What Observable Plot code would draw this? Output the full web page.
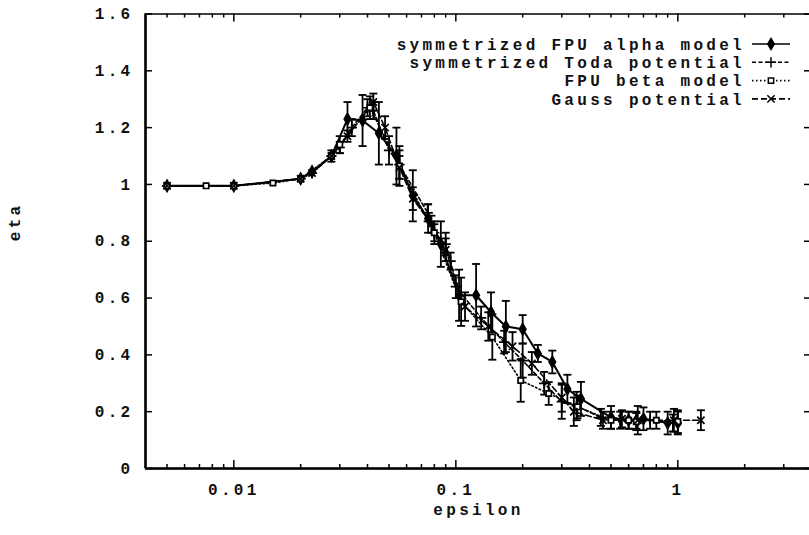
<!DOCTYPE html>
<html><head><meta charset="utf-8">
<script src="https://cdn.jsdelivr.net/npm/d3@7"></script>
<script src="https://cdn.jsdelivr.net/npm/@observablehq/plot@0.6"></script>
<style>
html,body{margin:0;padding:0;background:#fff;}
svg text{font-family:"Liberation Mono",monospace !important;font-size:16px !important;font-weight:bold;letter-spacing:3.3px;fill:#111;}
</style></head><body><div id="chart"></div>
<script>
// ---- data ----
const seriesNames = ["symmetrized FPU alpha model","symmetrized Toda potential","FPU beta model","Gauss potential"];

const alphaEps = [0.005,0.01,0.02,0.0225,0.0275,0.0325,0.038,0.045,0.054,0.064,0.075,0.0856,0.1034,0.1234,0.144,0.168,0.2,0.234,0.272,0.318,0.366,0.5,0.6,0.7,0.9,1.0];
const alphaEta = [0.995,0.995,1.02,1.045,1.10,1.23,1.225,1.18,1.10,0.96,0.88,0.79,0.61,0.61,0.55,0.50,0.49,0.405,0.375,0.28,0.245,0.18,0.17,0.175,0.16,0.16];
const alphaErr = [0,0,0,0,0,0.06,0.09,0.11,0.10,0.09,0.05,0.08,0.09,0.11,0.07,0.09,0.05,0.03,0.04,0.05,0.06,0.04,0.03,0.04,0.04,0.04];

const todaEps = [0.005,0.01,0.02,0.0225,0.0275,0.03,0.034,0.04,0.0425,0.05,0.0557,0.0747,0.08,0.09,0.0947,0.1,0.13,0.165,0.2,0.25,0.3,0.35,0.45,0.55,0.65,0.75,0.95];
const todaEta = [0.995,0.995,1.02,1.04,1.10,1.13,1.20,1.27,1.26,1.12,1.07,0.90,0.83,0.79,0.73,0.64,0.53,0.445,0.38,0.30,0.235,0.22,0.18,0.17,0.17,0.17,0.16];
const todaErr = [0,0,0,0,0,0.02,0.03,0.03,0.03,0.05,0.05,0.03,0.03,0.04,0.03,0.04,0.04,0.04,0.06,0.04,0.06,0.05,0.03,0.03,0.03,0.03,0.03];

const betaEps = [0.005,0.0075,0.01,0.015,0.02,0.0275,0.03,0.041,0.0557,0.08,0.1056,0.146,0.196,0.262,0.353,0.5,0.6,0.65,0.8,1.0];
const betaEta = [0.995,0.995,0.995,1.005,1.02,1.10,1.14,1.27,1.065,0.83,0.587,0.463,0.31,0.264,0.217,0.17,0.17,0.165,0.17,0.165];
const betaErr = [0,0,0,0,0,0.02,0.03,0.04,0.07,0.04,0.085,0.08,0.075,0.04,0.04,0.03,0.03,0.03,0.03,0.04];

const gaussEps = [0.005,0.01,0.02,0.0225,0.0275,0.0325,0.0425,0.048,0.0557,0.064,0.0776,0.09,0.11,0.14,0.18,0.22,0.3,0.34,0.46,0.56,0.66,0.96,1.27];
const gaussEta = [0.995,0.995,1.02,1.04,1.10,1.17,1.29,1.20,1.06,0.95,0.86,0.77,0.57,0.50,0.43,0.37,0.25,0.20,0.17,0.175,0.17,0.17,0.17];
const gaussErr = [0,0,0,0,0,0.02,0.03,0.04,0.04,0.04,0.03,0.04,0.05,0.05,0.05,0.04,0.05,0.05,0.03,0.03,0.05,0.04,0.035];

const xMajorTicks = [0.01,0.1,1];
const xMinorTicks = [0.005,0.006,0.007,0.008,0.009,0.02,0.03,0.04,0.05,0.06,0.07,0.08,0.09,0.2,0.3,0.4,0.5,0.6,0.7,0.8,0.9,2,3];
const yTicks = [0,0.2,0.4,0.6,0.8,1,1.2,1.4,1.6];

// ---- layout ----
const W = 809, H = 535;
const mL = 145, mR = -2, mT = 13.5, mB = 67;
const frameW = W - mL - mR, frameH = H - mT - mB;

const rows = (name, eps, eta, err) => eps.map((e,i)=>({series:name, eps:e, eta:eta[i], err:err[i]}));
const alpha = rows(seriesNames[0], alphaEps, alphaEta, alphaErr);
const toda  = rows(seriesNames[1], todaEps, todaEta, todaErr);
const beta  = rows(seriesNames[2], betaEps, betaEta, betaErr);
const gauss = rows(seriesNames[3], gaussEps, gaussEta, gaussErr);
const all = [...alpha, ...toda, ...beta, ...gauss];
const withErr = all.filter(d => d.err > 0);

const capSymbol = {draw(ctx){ ctx.moveTo(-4,0); ctx.lineTo(4,0); }};

const styles = [
  {data: alpha, dash: null,      symbol: "diamond", fill: "black", r: 3.4, w: 2},
  {data: toda,  dash: "4,2.5",   symbol: "plus",    fill: "none",  r: 3.4, w: 1.6},
  {data: beta,  dash: "1.5,2.5", symbol: "square",  fill: "white", r: 3.0, w: 1.6},
  {data: gauss, dash: "6,3",     symbol: "times",   fill: "none",  r: 3.4, w: 1.6}
];

const marks = [];
for (const s of styles) {
  marks.push(Plot.line(s.data, {x: "eps", y: "eta", stroke: "black", strokeWidth: s.w, strokeDasharray: s.dash}));
}
marks.push(Plot.ruleX(withErr, {x: "eps", y1: d => d.eta - d.err, y2: d => d.eta + d.err, stroke: "black", strokeWidth: 1.8}));
marks.push(Plot.dot(withErr, {x: "eps", y: d => d.eta - d.err, symbol: capSymbol, stroke: "black", strokeWidth: 1.8, fill: "none"}));
marks.push(Plot.dot(withErr, {x: "eps", y: d => d.eta + d.err, symbol: capSymbol, stroke: "black", strokeWidth: 1.8, fill: "none"}));
for (const s of styles) {
  marks.push(Plot.dot(s.data, {x: "eps", y: "eta", symbol: s.symbol, r: s.r, stroke: "black", strokeWidth: 1.7, fill: s.fill}));
}
// inward ticks on all four sides
marks.push(Plot.tickX(xMajorTicks, {x: d => d, insetTop: frameH - 8, stroke: "black", strokeWidth: 1.5}));
marks.push(Plot.tickX(xMinorTicks, {x: d => d, insetTop: frameH - 4, stroke: "black", strokeWidth: 1.5}));
marks.push(Plot.tickX(xMajorTicks, {x: d => d, insetBottom: frameH - 8, stroke: "black", strokeWidth: 1.5}));
marks.push(Plot.tickX(xMinorTicks, {x: d => d, insetBottom: frameH - 4, stroke: "black", strokeWidth: 1.5}));
marks.push(Plot.tickY(yTicks, {y: d => d, insetRight: frameW - 7, stroke: "black", strokeWidth: 1.5}));
marks.push(Plot.tickY(yTicks, {y: d => d, insetLeft: frameW - 7, stroke: "black", strokeWidth: 1.5}));
// frame
marks.push(Plot.frame({stroke: "black", strokeWidth: 1.5}));
marks.push(Plot.ruleY([0], {stroke: "black", strokeWidth: 2.5}));
marks.push(Plot.ruleX([0.004], {stroke: "black", strokeWidth: 2.5}));
// axes (labels only)
marks.push(Plot.axisX({ticks: xMajorTicks, tickSize: 0, tickPadding: 15, tickFormat: d => String(d), label: null}));
marks.push(Plot.axisY({ticks: yTicks, tickSize: 0, tickPadding: 12, tickFormat: d => String(d), label: null}));
marks.push(Plot.text(["epsilon"], {frameAnchor: "bottom", dy: 46}));
marks.push(Plot.text(["eta"], {frameAnchor: "left", dx: -131, rotate: -90}));

const plot = Plot.plot({
  width: W, height: H,
  marginLeft: mL, marginRight: mR, marginTop: mT, marginBottom: mB,
  x: {type: "log", domain: [0.004, 4]},
  y: {domain: [0, 1.6]},
  style: {background: "white", overflow: "visible"},
  marks
});
document.getElementById("chart").appendChild(plot);

// ---- legend ----
const svg = d3.select(plot);
const lg = svg.append("g");
const textX = 745, sx1 = 752, sx2 = 790, rowY0 = 44, rowDy = 18.3;
styles.forEach((s, i) => {
  const y = rowY0 + i * rowDy;
  lg.append("text").attr("x", textX).attr("y", y).attr("dy", "0.35em").attr("text-anchor", "end").text(seriesNames[i]);
  lg.append("line").attr("x1", sx1).attr("x2", sx2).attr("y1", y).attr("y2", y)
    .attr("stroke", "black").attr("stroke-width", 1.6).attr("stroke-dasharray", s.dash);
  const sym = {diamond: d3.symbolDiamond, plus: d3.symbolPlus, square: d3.symbolSquare, times: d3.symbolTimes}[s.symbol];
  lg.append("path").attr("d", d3.symbol(sym, s.r * s.r * Math.PI)())
    .attr("transform", `translate(${(sx1 + sx2) / 2},${y})`)
    .attr("fill", s.fill).attr("stroke", "black").attr("stroke-width", 1.5);
});
</script></body></html>
